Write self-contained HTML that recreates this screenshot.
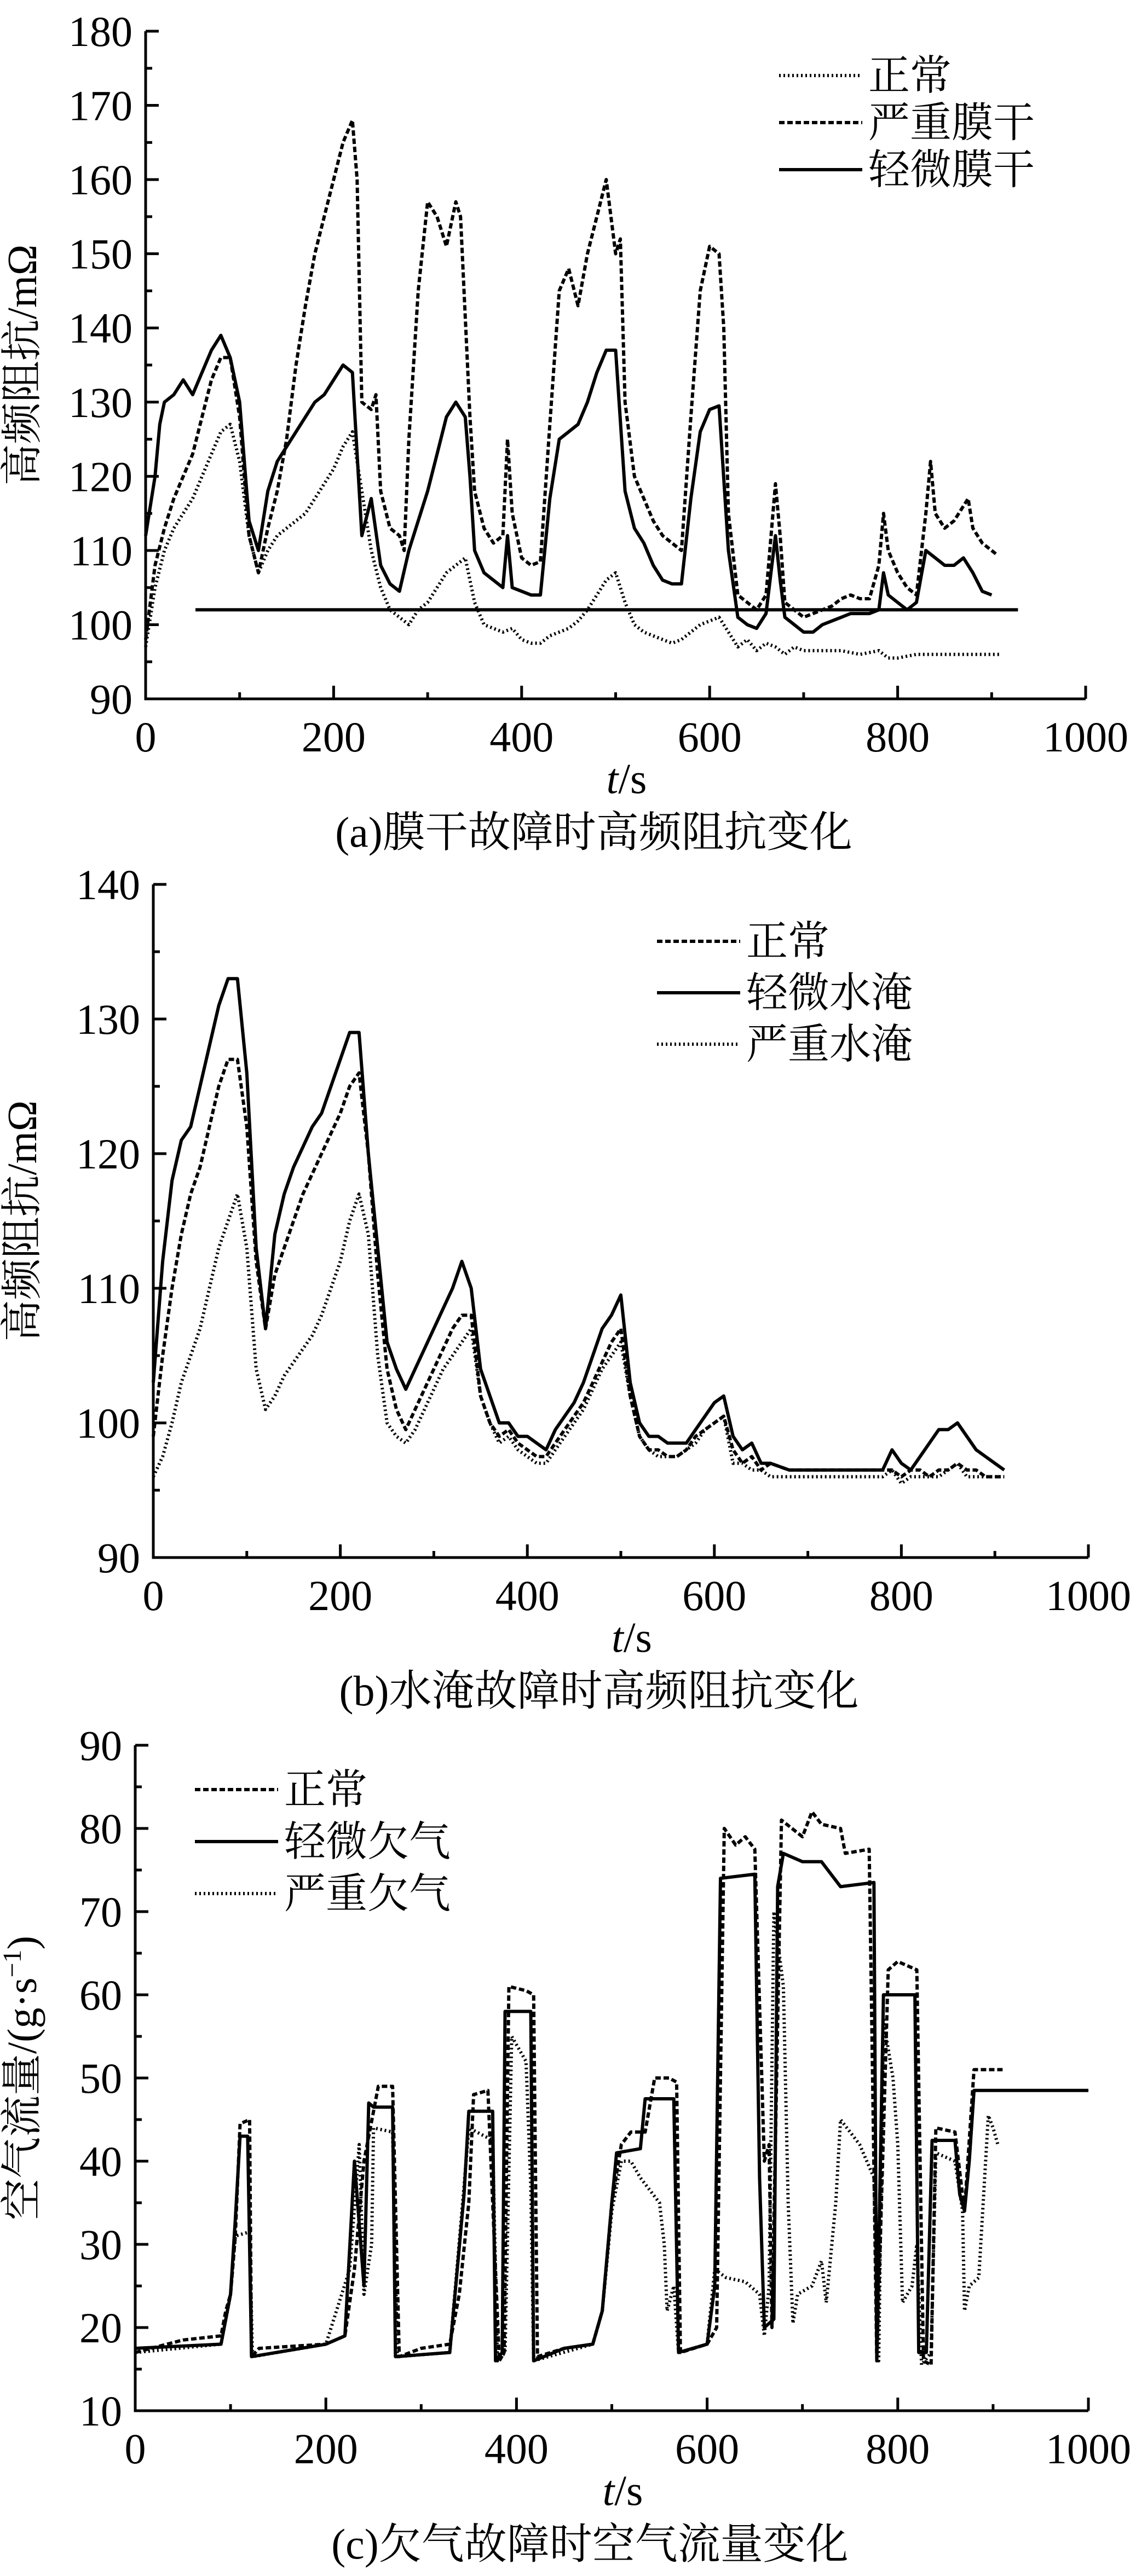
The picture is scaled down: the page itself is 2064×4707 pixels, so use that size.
<!DOCTYPE html>
<html><head><meta charset="utf-8">
<style>
html,body{margin:0;padding:0;background:#fff;}
svg{display:block;}
.tk{font-family:"Liberation Serif","Times New Roman","Noto Serif CJK SC",serif;font-size:78px;fill:#000;}
.cj{font-family:"Liberation Serif","Times New Roman","Noto Serif CJK SC",serif;font-size:76px;fill:#000;}
</style></head>
<body>
<svg id="fig" width="2064" height="4707" viewBox="0 0 2064 4707" xmlns="http://www.w3.org/2000/svg"></svg>
<script>
// ---------- Panel (a) data ----------
const aT_norm=[0,10,20,30,40,50,60,70,80,90,100,110,120,130,140,150,160,170,180,190,200,210,220,230,240,250,260,270,280,290,300,310,320,330,340,350,360,370,380,390,400,410,420,430,440,450,460,470,480,490,500,510,520,530,540,550,560,570,580,590,600,610,620,630,640,650,660,670,680,690,700,720,740,760,780,790,800,820,840,860,880,900,910];
const aV_norm=[97,105,110,113,115,117,120,123,126,127,122,112,107,110,112,113,114,115,117,119,121,124,126,118,110,105,102,101,100,102,103,105,107,108,109,103,100,99.5,99,99.5,98,97.5,97.5,98.5,99,99.5,100.5,102,104,106,107,103,100,99,98.5,98,97.5,98,99,100,100.5,101,99,97,98,96.5,97.5,97,96,97,96.5,96.5,96.5,96,96.5,95.5,95.5,96,96,96,96,96,96];
const aT_sev=[0,10,20,30,40,50,60,70,80,90,100,110,120,130,140,150,160,170,180,190,200,210,220,225,230,240,245,250,260,270,275,280,290,300,310,320,330,335,345,350,360,370,380,385,390,400,410,420,430,440,450,460,470,480,490,500,505,510,520,530,540,550,560,570,580,590,600,610,615,620,630,640,650,660,670,675,680,690,700,710,720,730,740,750,760,770,780,785,790,800,810,820,830,835,840,850,860,870,875,880,890,900,905];
const aV_sev=[98,108,113,117,120,123,128,133,136,136,128,112,107,113,118,125,135,143,150,155,160,165,168,160,130,129,131,118,113,112,110,125,145,157,155,151,157,155,128,118,113,111,112,125,115,109,108,108.5,127,145,148,143,150,155,160,150,152,130,120,117,114,112,111,110,128,145,151,150,140,115,104,103,102,104,119,112,103,102,101,101.5,102,102.5,103.5,104,103.5,103.5,108,115,110,107,105,104,115,122,115,113,114,116,117,113,111,110,109.5];
const aT_light=[0,10,15,20,30,40,50,60,70,80,90,100,110,120,130,140,150,160,170,180,190,200,210,220,230,240,250,260,270,280,290,300,310,320,330,340,345,350,360,370,380,385,390,400,410,420,430,440,450,460,470,480,490,500,510,520,530,540,550,560,570,580,590,600,610,620,630,640,650,660,670,675,680,690,700,710,720,730,740,750,760,770,780,785,790,800,810,820,830,840,850,860,870,880,890,900];
const aV_light=[112,120,127,130,131,133,131,134,137,139,136,130,114,110,118,122,124,126,128,130,131,133,135,134,112,117,108,105.5,104.5,110,114,118,123,128,130,128,120,110,107,106,105,112,105,104.5,104,104,117,125,126,127,130,134,137,137,118,113,111,108,106,105.5,105.5,117,126,129,129.5,110,101,100,99.5,101.5,112,106,101,100,99,99,100,100.5,101,101.5,101.5,101.5,102,107,104,103,102,103,110,109,108,108,109,107,104.5,104];
const aRefT=[53,928];
const aRefV=[102,102];

// ---------- Panel (b) data ----------
const bT=[0,10,20,30,40,50,60,70,80,90,100,110,120,130,140,150,160,170,180,190,200,210,220,230,240,250,260,270,280,290,300,310,320,330,340,350,360,370,380,390,400,410,420,430,440,450,460,470,480,490,500,510,520,530,540,550,560,570,580,590,600,610,620,630,640,650,660,680,700,720,740,760,780,790,800,810,820,830,840,850,860,870,880,890,900,910];
const bV_norm=[99,105,110,114,117,119,122,125,127,127,122,112,107,111,113,115,117,118.5,120,121.5,123,125,126,120,111,104,101,99.5,101,102.5,104,105.5,107,108,108,102,100,99,99.5,98.5,98,97.5,97.5,98.5,99.5,100.5,101.5,103,104.5,106,107,102,99,98,98,97.5,97.5,98,99,99.5,100,100.5,98,97,97.5,96.5,97,96.5,96.5,96.5,96.5,96.5,96.5,96.5,96,96.5,96.5,96,96.5,96.5,97,96.5,96.5,96,96,96];
const bV_light=[103,112,118,121,122,125,128,131,133,133,126,113,107,114,117,119,120.5,122,123,125,127,129,129,120,113,106,104,102.5,104,105.5,107,108.5,110,112,110,104,102,100,100,99,99,98.5,98,99.5,100.5,101.5,103,105,107,108,109.5,103,100,99,99,98.5,98.5,98.5,99.5,100.5,101.5,102,99,98,98.5,97,97,96.5,96.5,96.5,96.5,96.5,96.5,98,97,96.5,97.5,98.5,99.5,99.5,100,99,98,97.5,97,96.5];
const bV_sev=[96,97.5,100,103,105,107,110,113,115,117,113,104,101,102,103.5,104.5,105.5,106.5,108,110,112,115,117,114,105,100,99,98.5,99.5,101,102.5,104,105,106,107,102,100,98.5,99,98,97.5,97,97,98,99,100,101,102.5,104,105,106,102,99,98,97.5,97.5,97.5,98,98.5,99.5,100,100.5,97,97,96.5,96.5,96,96,96,96,96,96,96,96.5,95.5,96,96,96,96,96.5,97,96,96,96,96,96];

// ---------- Panel (c) data ----------
const cT_norm=[0,50,90,95,100,105,110,120,122,130,200,220,230,240,250,255,270,277,300,330,340,350,355,370,382,387,392,410,418,422,450,480,490,500,510,520,535,545,560,568,572,600,610,618,630,640,650,660,665,668,678,700,710,720,740,745,770,778,790,800,820,827,835,840,860,870,880,900,910];
const cV_norm=[17,18.5,19,22,24,31,44.5,45,16.5,17.5,18,19,27,40,46,49,49,16.5,17.5,18,24,35,48,48.5,16,17,61,60.5,60,16.5,17.5,18,22,35,42,43.5,43.5,50,50,49.5,17,18,20,80,78,79,77.5,40,42,20,81,79,82,80.5,80,77,77.5,16,63,64,63,16,15.5,44,43.5,34,51,51,51];
const cT_light=[0,90,100,105,110,118,122,200,220,230,240,245,250,270,273,330,345,350,375,378,385,388,415,418,450,480,490,500,505,530,535,565,570,600,608,614,650,655,660,670,674,680,700,720,740,775,778,785,800,818,822,830,836,860,865,870,875,880,900,1000];
const cV_light=[17.5,18,24,33,43,43,16.5,18,19,40,25,47,46.5,46.5,16.5,17,36,46,46,16,17,58,58,16,17.5,18,22,35,41,41.5,47.5,47.5,17,18,25,74,74.5,38,20,21,73,77,76,76,73,73.5,16,60,60,60,17,17,42.5,42.5,36,34,40,48.5,48.5,48.5];
const cT_sev=[0,90,100,105,120,123,200,225,235,240,248,250,270,275,330,345,350,375,380,388,395,410,415,418,480,490,500,510,520,530,550,555,558,565,570,600,608,620,640,655,660,665,670,680,685,690,695,710,720,725,735,740,760,775,780,785,795,800,805,815,820,825,835,840,860,868,870,875,885,895,900,905];
const cV_sev=[17,18,24,31,31.5,16.5,18,27,42,24,30,44,43.5,16.5,17,37,44,42.5,16,17,55,52,37,16,18,22,34,40,40,38,35,30,22,25,17,18,27,26,25.5,24,19,25,70,61,35,20.5,24,25,28,23,35,45,42,38,16,57,50,42,23,25,30,15.5,17,41,40,34,22,25,26,45.5,44,42];

const xTicks=[0,200,400,600,800,1000];

const NS='http://www.w3.org/2000/svg';
const fig=document.getElementById('fig');
const FONT='"Liberation Serif","Times New Roman","Noto Serif CJK SC",serif';
function mk(tag,attrs,parent){const e=document.createElementNS(NS,tag);for(const k in attrs)e.setAttribute(k,attrs[k]);(parent||fig).appendChild(e);return e;}

function makePanel(p){
  const g=mk('g',{});
  
  
  const sx=t=>p.x0+(t/1000)*(p.x1-p.x0);
  const sy=v=>p.yb+(v-p.ymin)/(p.ymax-p.ymin)*(p.yt-p.yb);
  const ax=mk('path',{d:`M${p.x0},${p.yt} V${p.yb} H${p.x1}`,fill:'none',stroke:'#000','stroke-width':5},g);
  
  
  for(let t=0;t<=1000;t+=100){
    const len=(t%200===0)?24:12;
    const tk=mk('line',{x1:sx(t),x2:sx(t),y1:p.yb,y2:p.yb-len,stroke:'#000','stroke-width':5},g);
    
    
  }
  xTicks.forEach(t=>{
    const tx=mk('text',{x:sx(t),y:p.yb+96,'text-anchor':'middle',class:'tk','font-family':FONT,'font-size':78},g);
    tx.textContent=String(t);
    
    
  });
  for(let v=p.ymin;v<=p.ymax;v+=p.ystep/2){
    const major=Math.abs(((v-p.ymin)/p.ystep)-Math.round((v-p.ymin)/p.ystep))<1e-6;
    const tk=mk('line',{x1:p.x0,x2:p.x0+(major?24:12),y1:sy(v),y2:sy(v),stroke:'#000','stroke-width':5},g);
    
    
  }
  p.yTickLabels.forEach(v=>{
    const tx=mk('text',{x:p.x0-24,y:sy(v)+27,'text-anchor':'end',class:'tk','font-family':FONT,'font-size':78},g);
    tx.textContent=String(v);
    
    
  });
  const yt=mk('text',{x:0,y:0,'text-anchor':'middle',class:'cj','font-family':FONT,'font-size':76,transform:`translate(${p.ytx},${(p.yt+p.yb)/2}) rotate(-90)`},g);
  yt.innerHTML=p.ytitle;
  
  
  const xt=mk('text',{x:(p.x0+p.x1)/2+20,y:p.yb+172,'text-anchor':'middle',class:'tk','font-family':FONT,'font-size':78},g);
  xt.innerHTML='<tspan font-style="italic">t</tspan>/s';
  
  
  const cp=mk('text',{x:(p.x0+p.x1)/2-40,y:p.yb+270,'text-anchor':'middle',class:'tk','font-family':FONT,'font-size':78},g);
  cp.textContent=p.caption;
  
  
  p.series.forEach(s=>{
    let d='';
    for(let i=0;i<s.t.length;i++){d+=(i?'L':'M')+sx(s.t[i]).toFixed(1)+','+sy(s.v[i]).toFixed(1);}
    const pa=mk('path',{d:d,fill:'none',stroke:'#000','stroke-width':s.w||6,'stroke-dasharray':s.dash||'none','stroke-linejoin':'round'},g);
    
    
  });
  p.legend.forEach((l,i)=>{
    const y=p.ly+i*p.lgap;
    const ln=mk('line',{x1:p.lx,x2:p.lx+152,y1:y,y2:y,stroke:'#000','stroke-width':6,'stroke-dasharray':l.dash||'none'},g);
    
    
    const tx=mk('text',{x:p.lx+163,y:y+26,class:'cj','font-family':FONT,'font-size':76},g);
    tx.textContent=l.label;
    
    
  });
}

const DOT='3,5', DASH='10,5';
makePanel({name:'panel-a-membrane-dry',x0:266,x1:1983,yt:57,yb:1277,ymin:90,ymax:180,ystep:10,
  yTickLabels:[90,100,110,120,130,140,150,160,170,180],ytx:66,ytitle:'高频阻抗/mΩ',caption:'(a)膜干故障时高频阻抗变化',
  series:[{name:'series-normal',t:aT_norm,v:aV_norm,dash:DOT},{name:'series-severe-dry',t:aT_sev,v:aV_sev,dash:DASH},{name:'series-light-dry',t:aT_light,v:aV_light},{name:'reference-line',t:aRefT,v:aRefV}],
  lx:1423,ly:138,lgap:86,legend:[{label:'正常',dash:DOT},{label:'严重膜干',dash:DASH},{label:'轻微膜干'}]});
makePanel({name:'panel-b-flooding',x0:280,x1:1988,yt:1616,yb:2846,ymin:90,ymax:140,ystep:10,
  yTickLabels:[90,100,110,120,130,140],ytx:66,ytitle:'高频阻抗/mΩ',caption:'(b)水淹故障时高频阻抗变化',
  series:[{name:'series-normal',t:bT,v:bV_norm,dash:DASH},{name:'series-light-flood',t:bT,v:bV_light},{name:'series-severe-flood',t:bT,v:bV_sev,dash:DOT}],
  lx:1200,ly:1720,lgap:94,legend:[{label:'正常',dash:DASH},{label:'轻微水淹'},{label:'严重水淹',dash:DOT}]});
makePanel({name:'panel-c-air-starvation',x0:247,x1:1988,yt:3189,yb:4405,ymin:10,ymax:90,ystep:10,
  yTickLabels:[10,20,30,40,50,60,70,80,90],ytx:66,ytitle:'空气流量/(g·s<tspan dy="-28" font-size="48">−1</tspan><tspan dy="28">)</tspan>',caption:'(c)欠气故障时空气流量变化',
  series:[{name:'series-normal',t:cT_norm,v:cV_norm,dash:DASH},{name:'series-light-starve',t:cT_light,v:cV_light},{name:'series-severe-starve',t:cT_sev,v:cV_sev,dash:DOT}],
  lx:356,ly:3270,lgap:95,legend:[{label:'正常',dash:DASH},{label:'轻微欠气'},{label:'严重欠气',dash:DOT}]});
</script>
</body></html>
